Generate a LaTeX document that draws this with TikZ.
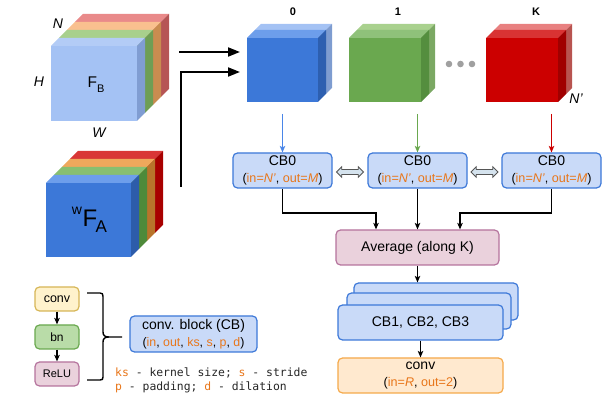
\documentclass[tikz,border=0pt]{standalone}
\usepackage{fontspec}
\setmainfont{Liberation Sans}
\setmonofont{DejaVu Sans Mono}
\usetikzlibrary{arrows.meta,shapes.arrows,calc}
\definecolor{org}{HTML}{E8761A}
\definecolor{cbF}{HTML}{C9DAF8}
\definecolor{cbB}{HTML}{3C78D8}
\definecolor{pkF}{HTML}{EAD1DC}
\definecolor{pkB}{HTML}{B5739D}
\definecolor{ylF}{HTML}{FFF2CC}
\definecolor{ylB}{HTML}{D6B656}
\definecolor{grF}{HTML}{B9DCA8}
\definecolor{grB}{HTML}{6AA84F}
\definecolor{orF}{HTML}{FFE9CF}
\definecolor{orB}{HTML}{F5A94A}
\definecolor{daF}{HTML}{D5E3EE}
\definecolor{daB}{HTML}{555555}
\definecolor{dotc}{HTML}{A0A0A0}
\definecolor{blA}{HTML}{4A86E8}
\definecolor{grA}{HTML}{6AA84F}
\definecolor{rdA}{HTML}{CC0000}
% F_B colours
\definecolor{bbF}{HTML}{A4C2F4}\definecolor{bbT}{HTML}{B3CCF6}\definecolor{bbS}{HTML}{809DD2}
\definecolor{bgT}{HTML}{A8D08D}\definecolor{bgS}{HTML}{6E9E55}
\definecolor{boT}{HTML}{F9C08F}\definecolor{boS}{HTML}{C98C50}
\definecolor{brT}{HTML}{E98A8A}\definecolor{brS}{HTML}{B65555}
% F_A colours
\definecolor{abF}{HTML}{3C78D8}\definecolor{abT}{HTML}{6D9EEB}\definecolor{abS}{HTML}{2D5CAA}
\definecolor{agT}{HTML}{88BF70}\definecolor{agS}{HTML}{4E8A3A}
\definecolor{aoT}{HTML}{EFA85C}\definecolor{aoS}{HTML}{B8742B}
\definecolor{arT}{HTML}{D93636}\definecolor{arS}{HTML}{A80000}
% top cubes
\definecolor{c0F}{HTML}{3C78D8}\definecolor{c0T}{HTML}{6D9EEB}\definecolor{c0S}{HTML}{2D5FB0}\definecolor{c0bT}{HTML}{A4C2F4}\definecolor{c0bS}{HTML}{7E9CD0}
\definecolor{c1F}{HTML}{6AA84F}\definecolor{c1T}{HTML}{8FC17A}\definecolor{c1S}{HTML}{548E3E}\definecolor{c1bT}{HTML}{A9D18E}\definecolor{c1bS}{HTML}{7BA863}
\definecolor{cKF}{HTML}{CC0000}\definecolor{cKT}{HTML}{D93333}\definecolor{cKS}{HTML}{A00000}\definecolor{cKbT}{HTML}{E88080}\definecolor{cKbS}{HTML}{B85450}
\newcommand\drawslab[8]{%
  \fill[#6] (#1,#2) rectangle ++(#3,#4);
  \fill[#7] (#1,#2) -- ++(#5,-#5) -- ++(#3,0) -- ++(-#5,#5) -- cycle;
  \fill[#8] (#1+#3,#2) -- ++(#5,-#5) -- ++(0,#4) -- ++(-#5,#5) -- cycle;
}
\tikzset{
  box/.style={draw, rounded corners=4.5pt, line width=1.2pt, inner sep=0pt, align=center,
    font=\fontsize{14}{16.5}\selectfont},
  bluebox/.style={box, draw=cbB, fill=cbF},
  pinkbox/.style={box, draw=pkB, fill=pkF},
  conn/.style={line width=1.1pt, -{Stealth[length=6.5pt,width=5.5pt,inset=1.5pt]}},
  carrow/.style={line width=1.1pt, -{Stealth[length=6.5pt,width=5.5pt,inset=1.5pt]}, shorten <=12pt},
  bigarrow/.style={line width=2pt, -{Triangle[length=12pt,width=9pt]}},
  dblarr/.style={double arrow, draw=daB, fill=daF, line width=0.8pt, minimum height=27pt,
    minimum width=10.5pt, inner sep=1.8pt, double arrow head extend=2.5pt},
  ghost/.style={inner sep=0pt, outer sep=0pt},
  lab/.style={font=\fontsize{14}{16}\selectfont\itshape, inner sep=0pt},
  idx/.style={font=\fontsize{11}{13}\selectfont\bfseries, inner sep=0pt},
  mono/.style={font=\fontsize{11.4}{14}\selectfont\ttfamily, inner sep=0pt, text=black!85},
}
\newcommand\og[1]{\textcolor{org}{#1}}
\begin{document}
\begin{tikzpicture}[x=1pt,y=-1pt]
\useasboundingbox (0,0) rectangle (606,398);
% ---------- F_B cube ----------
\drawslab{75}{22}{86}{75}{8}{brT}{brT}{brS}
\drawslab{67}{30}{86}{75}{8}{boT}{boT}{boS}
\drawslab{59}{38}{86}{75}{8}{bgT}{bgT}{bgS}
\drawslab{51}{46}{86}{75}{8}{bbF}{bbT}{bbS}
\node[ghost, minimum width=86pt, minimum height=75pt] (fb) at (94,83.5) {};
\node[inner sep=0pt] (fbl) at (96,84.5) {{\fontsize{15.5}{16}\selectfont F}{\fontsize{11}{12}\selectfont\raisebox{-5pt}{B}}};
\node[lab] (ln) at (58,24) {N};
\node[lab] (lh) at (39,82) {H};
\node[lab] (lw) at (99,133) {W};
% ---------- F_A cube ----------
\drawslab{70}{159}{85}{74}{8}{arT}{arT}{arS}
\drawslab{62}{167}{85}{74}{8}{aoT}{aoT}{aoS}
\drawslab{54}{175}{85}{74}{8}{agT}{agT}{agS}
\drawslab{46}{183}{85}{74}{8}{abF}{abT}{abS}
\node[ghost, minimum width=85pt, minimum height=74pt] (fa) at (88.5,220) {};
\node[inner sep=0pt] (fal) at (89.5,220) {{\fontsize{14}{14}\selectfont\raisebox{12.5pt}{w}}\kern0.5pt{\fontsize{24}{24}\selectfont F}\kern-1.5pt{\fontsize{17}{17}\selectfont\raisebox{-6pt}{A}}};
% ---------- top cubes ----------
\drawslab{255}{30}{71}{64}{6}{c0bT}{c0bT}{c0bS}
\drawslab{247}{38}{71}{64}{8}{c0F}{c0T}{c0S}
\drawslab{357}{30}{72}{64}{6}{c1bT}{c1bT}{c1bS}
\drawslab{349}{38}{72}{64}{8}{c1F}{c1T}{c1S}
\drawslab{494}{30}{72}{64}{6}{cKbT}{cKbT}{cKbS}
\drawslab{486}{38}{72}{64}{8}{cKF}{cKT}{cKS}
\node[ghost, minimum width=71pt, minimum height=64pt] (c0) at (282.5,70) {};
\node[ghost, minimum width=72pt, minimum height=64pt] (c1) at (385,70) {};
\node[ghost, minimum width=72pt, minimum height=64pt] (cK) at (522,70) {};
\node[idx] (i0) at (293,12) {0};
\node[idx] (i1) at (398,12) {1};
\node[idx] (iK) at (536,12) {K};
\fill[dotc] (449,64) circle (3.3pt);
\fill[dotc] (460.5,64) circle (3.3pt);
\fill[dotc] (472,64) circle (3.3pt);
\node[lab] (np) at (576,99) {N'};
% ---------- big arrows ----------
\coordinate (s1) at (179,52);
\coordinate (t1) at (240,52);
\coordinate (s2) at (181,187);
\coordinate (t2) at (240,72);
\draw[bigarrow] (s1) -- (t1);
\draw[bigarrow] (s2) |- (t2);
% ---------- CB0 boxes ----------
\node[bluebox, minimum width=99pt, minimum height=35pt] (cb1) at (282.5,170.5)
  {CB0\\{\fontsize{12.6}{14}\selectfont (\og{in=\textit{N'}}, \og{out=\textit{M}})}};
\node[bluebox, minimum width=99pt, minimum height=35pt] (cb2) at (417.5,170.5)
  {CB0\\{\fontsize{12.6}{14}\selectfont (\og{in=\textit{N'}}, \og{out=\textit{M}})}};
\node[bluebox, minimum width=99pt, minimum height=35pt] (cb3) at (551.5,170.5)
  {CB0\\{\fontsize{12.6}{14}\selectfont (\og{in=\textit{N'}}, \og{out=\textit{M}})}};
\draw[carrow, blA] (c0.south) -- (cb1.north);
\draw[carrow, grA] (cb2.north |- c1.south) -- (cb2.north);
\draw[carrow, rdA] (cb3.north |- cK.south) -- (cb3.north);
\node[dblarr] (d1) at ($(cb1.east)!0.5!(cb2.west)+(0,1.5)$) {};
\node[dblarr] (d2) at ($(cb2.east)!0.5!(cb3.west)+(0,1.5)$) {};
% ---------- average ----------
\node[pinkbox, minimum width=163pt, minimum height=35pt] (avg) at (417.5,247.5) {Average (along K)};
\coordinate (e1) at (376,213);
\coordinate (e3) at (460,213);
\draw[conn] (cb1.south) |- (e1) -- (e1 |- avg.north);
\draw[conn] (cb2.south) -- (cb2.south |- avg.north);
\draw[conn] (cb3.south) |- (e3) -- (e3 |- avg.north);
% ---------- stack ----------
\node[bluebox, minimum width=164pt, minimum height=37pt] (stk3) at (436,301.5) {};
\node[bluebox, minimum width=164pt, minimum height=36pt] (stk2) at (429,311) {};
\node[bluebox, minimum width=165pt, minimum height=35pt] (stk1) at (420.5,322.5) {CB1, CB2, CB3};
\draw[conn] (avg.south) -- (avg.south |- stk3.north);
\node[box, draw=orB, fill=orF, minimum width=165pt, minimum height=35pt] (cvo) at (420.5,375.5)
  {conv\\{\fontsize{12.6}{14}\selectfont (\og{in=\textit{R}}, \og{out=2})}};
\draw[conn] (stk1.south) -- (cvo.north);
% ---------- legend ----------
\node[box, draw=ylB, fill=ylF, minimum width=44pt, minimum height=24pt, font=\fontsize{12.5}{14}\selectfont] (lconv) at (57,299) {conv};
\node[box, draw=grB, fill=grF, minimum width=44pt, minimum height=24pt, font=\fontsize{12}{14}\selectfont] (lbn) at (57,337) {bn};
\node[box, draw=pkB, fill=pkF, minimum width=44pt, minimum height=24pt, font=\fontsize{11}{13}\selectfont] (lrelu) at (57,374) {ReLU};
\draw[conn] (lconv.south) -- (lbn.north);
\draw[conn] (lbn.south) -- (lrelu.north);
\draw[line width=1.4pt, line join=round]
  (87,293) -- (100,293) .. controls (102.5,293) and (103,294) .. (103,296.5)
  -- (103,332) .. controls (103,335.5) and (105,337) .. (109,337) -- (122,337)
  (109,337) .. controls (105,337) and (103,338.5) .. (103,342)
  -- (103,377) .. controls (103,379.5) and (102.5,380) .. (100,380) -- (87,380);
\node[bluebox, minimum width=127pt, minimum height=36pt] (lcb) at (193.5,334)
  {conv. block (CB)\\{\fontsize{12.4}{14}\selectfont (\og{in}, \og{out}, \og{ks}, \og{s}, \og{p}, \og{d})}};
\node[mono, anchor=base west] (m1) at (115,377) {\og{ks} - kernel size; \og{s} - stride};
\node[mono, anchor=base west] (m2) at (115,391) {\og{p} - padding; \og{d} - dilation};
\end{tikzpicture}
\end{document}
